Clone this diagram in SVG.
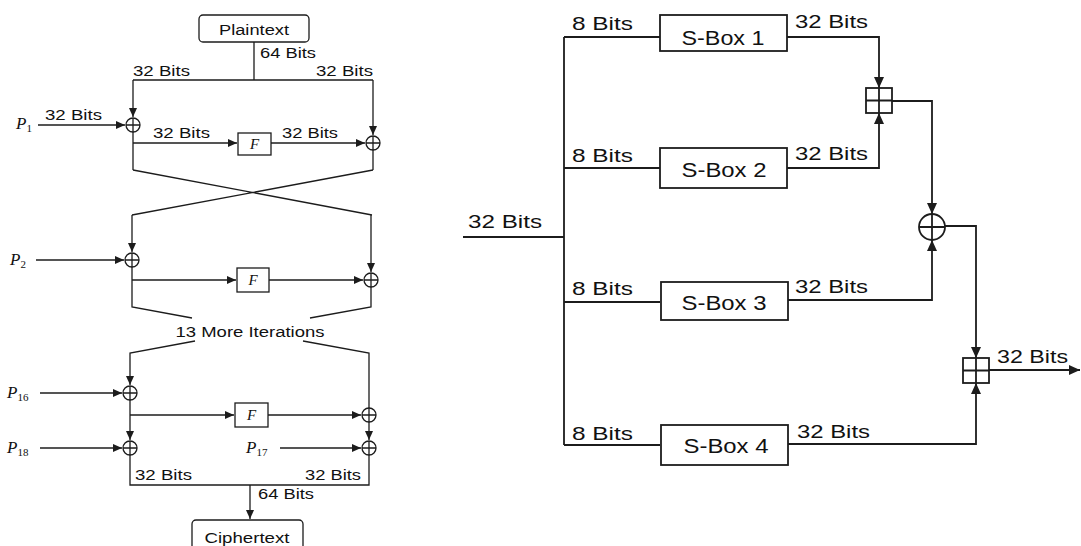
<svg xmlns="http://www.w3.org/2000/svg" width="1081" height="546" viewBox="0 0 1081 546">
<style>
.ln{fill:none;stroke:#1c1c1c;stroke-width:1.3}
.lnR{fill:none;stroke:#1c1c1c;stroke-width:1.8}
.box{fill:#fff;stroke:#1c1c1c;stroke-width:1.3}
.boxR{fill:#fff;stroke:#1c1c1c;stroke-width:1.8}
.t{font-family:"Liberation Sans",Arial,sans-serif;font-size:14px;fill:#111}
.tR{font-family:"Liberation Sans",Arial,sans-serif;font-size:19px;fill:#111}
.tS{font-family:"Liberation Sans",Arial,sans-serif;font-size:20px;fill:#111}
.p{font-family:"Liberation Serif","Times New Roman",serif;font-style:italic;font-size:17px;fill:#111}
.pf{font-family:"Liberation Serif","Times New Roman",serif;font-style:italic;font-size:15px;fill:#111}
.sub{font-size:11px;font-style:normal}
</style>
<defs>
<marker id="a" markerUnits="userSpaceOnUse" markerWidth="10" markerHeight="8" refX="9" refY="4" orient="auto"><path d="M0,0 L9,4 L0,8 z" fill="#1c1c1c"/></marker>
<marker id="aR" markerUnits="userSpaceOnUse" markerWidth="12" markerHeight="10" refX="11" refY="5" orient="auto"><path d="M0,0 L11,5 L0,10 z" fill="#1c1c1c"/></marker>
</defs>
<rect width="1081" height="546" fill="#fff"/>

<!-- connectors -->
<g id="connectors">
  <!-- left: Blowfish -->
  <path class="ln" d="M254,42 V80 M133,80 H373"/>
  <path class="ln" d="M133,80 V117" marker-end="url(#a)"/>
  <path class="ln" d="M373,80 V135" marker-end="url(#a)"/>
  <path class="ln" d="M38,125 H125" marker-end="url(#a)"/>
  <path class="ln" d="M133,132 V170"/>
  <path class="ln" d="M133,143 H237" marker-end="url(#a)"/>
  <path class="ln" d="M271,143 H365" marker-end="url(#a)"/>
  <path class="ln" d="M373,150 V170"/>
  <path class="ln" d="M133,170 L372,215 M373,170 L132,215"/>
  <path class="ln" d="M132,215 V252" marker-end="url(#a)"/>
  <path class="ln" d="M371,215 V272" marker-end="url(#a)"/>
  <path class="ln" d="M36,260 H124" marker-end="url(#a)"/>
  <path class="ln" d="M132,267 V307 L192,318"/>
  <path class="ln" d="M132,280 H236" marker-end="url(#a)"/>
  <path class="ln" d="M269,280 H363" marker-end="url(#a)"/>
  <path class="ln" d="M371,287 V307 L310,318"/>
  <path class="ln" d="M195,341 L130,353 V385" marker-end="url(#a)"/>
  <path class="ln" d="M303,341 L369,353 V440" marker-end="url(#a)"/>
  <path class="ln" d="M40,393 H122" marker-end="url(#a)"/>
  <path class="ln" d="M130,400 V440" marker-end="url(#a)"/>
  <path class="ln" d="M130,415 H234" marker-end="url(#a)"/>
  <path class="ln" d="M268,415 H361" marker-end="url(#a)"/>
  <path class="ln" d="M40,448 H122" marker-end="url(#a)"/>
  <path class="ln" d="M280,448 H361" marker-end="url(#a)"/>
  <path class="ln" d="M130,455 V485 H369 V455"/>
  <path class="ln" d="M250,485 V519" marker-end="url(#a)"/>

  <!-- right: F function -->
  <path class="lnR" d="M463,237 H564 M564,37 V445"/>
  <path class="lnR" d="M564,37 H660 M564,168 H660 M564,302 H660 M564,445 H660"/>
  <path class="lnR" d="M787,37 H879 V88" marker-end="url(#aR)"/>
  <path class="lnR" d="M787,168 H879 V113" marker-end="url(#aR)"/>
  <path class="lnR" d="M892,101 H932 V214" marker-end="url(#aR)"/>
  <path class="lnR" d="M787,300 H932 V240" marker-end="url(#aR)"/>
  <path class="lnR" d="M945,226 H976 V358" marker-end="url(#aR)"/>
  <path class="lnR" d="M787,444 H976 V383" marker-end="url(#aR)"/>
  <path class="lnR" d="M989,370 H1080" marker-end="url(#aR)"/>
</g>

<!-- left nodes -->
<g id="plaintext"><rect class="box" x="199" y="15" width="110" height="27" rx="4"/><text class="t" x="254" y="35" text-anchor="middle" textLength="70" lengthAdjust="spacingAndGlyphs">Plaintext</text></g>
<g id="ciphertext"><rect class="box" x="192" y="520" width="111" height="40" rx="4"/><text class="t" x="247" y="543" text-anchor="middle" textLength="85" lengthAdjust="spacingAndGlyphs">Ciphertext</text></g>

<g id="xor1L"><circle class="box" cx="133" cy="125" r="7"/><path class="ln" d="M126,125 H140 M133,118 V132"/></g>
<g id="xor1R"><circle class="box" cx="373" cy="143" r="7"/><path class="ln" d="M366,143 H380 M373,136 V150"/></g>
<g id="xor2L"><circle class="box" cx="132" cy="260" r="7"/><path class="ln" d="M125,260 H139 M132,253 V267"/></g>
<g id="xor2R"><circle class="box" cx="371" cy="280" r="7"/><path class="ln" d="M364,280 H378 M371,273 V287"/></g>
<g id="xor16L"><circle class="box" cx="130" cy="393" r="7"/><path class="ln" d="M123,393 H137 M130,386 V400"/></g>
<g id="xor16R"><circle class="box" cx="369" cy="415" r="7"/><path class="ln" d="M362,415 H376 M369,408 V422"/></g>
<g id="xor18L"><circle class="box" cx="130" cy="448" r="7"/><path class="ln" d="M123,448 H137 M130,441 V455"/></g>
<g id="xor17R"><circle class="box" cx="369" cy="448" r="7"/><path class="ln" d="M362,448 H376 M369,441 V455"/></g>

<g id="F1"><rect class="box" x="238" y="133" width="33" height="22"/><text class="pf" x="254.5" y="149" text-anchor="middle">F</text></g>
<g id="F2"><rect class="box" x="237" y="268" width="32" height="24"/><text class="pf" x="253" y="285" text-anchor="middle">F</text></g>
<g id="F3"><rect class="box" x="235" y="403" width="33" height="24"/><text class="pf" x="251.5" y="420" text-anchor="middle">F</text></g>

<g id="labelsL">
  <text class="t" x="260" y="58" textLength="56" lengthAdjust="spacingAndGlyphs">64 Bits</text>
  <text class="t" x="133" y="76" textLength="57" lengthAdjust="spacingAndGlyphs">32 Bits</text>
  <text class="t" x="316" y="76" textLength="57" lengthAdjust="spacingAndGlyphs">32 Bits</text>
  <text class="t" x="45" y="120" textLength="57" lengthAdjust="spacingAndGlyphs">32 Bits</text>
  <text class="t" x="153" y="138" textLength="57" lengthAdjust="spacingAndGlyphs">32 Bits</text>
  <text class="t" x="282" y="138" textLength="56" lengthAdjust="spacingAndGlyphs">32 Bits</text>
  <text class="t" x="250" y="337" text-anchor="middle" textLength="149" lengthAdjust="spacingAndGlyphs">13 More Iterations</text>
  <text class="t" x="135" y="480" textLength="57" lengthAdjust="spacingAndGlyphs">32 Bits</text>
  <text class="t" x="305" y="480" textLength="56" lengthAdjust="spacingAndGlyphs">32 Bits</text>
  <text class="t" x="258" y="499" textLength="56" lengthAdjust="spacingAndGlyphs">64 Bits</text>
  <text class="p" x="16" y="129">P<tspan class="sub" dy="3">1</tspan></text>
  <text class="p" x="10" y="265">P<tspan class="sub" dy="3">2</tspan></text>
  <text class="p" x="7" y="398">P<tspan class="sub" dy="3">16</tspan></text>
  <text class="p" x="7" y="453">P<tspan class="sub" dy="3">18</tspan></text>
  <text class="p" x="246" y="453">P<tspan class="sub" dy="3">17</tspan></text>
</g>

<!-- right nodes -->
<g id="sbox1"><rect class="boxR" x="660" y="15" width="127" height="36"/><text class="tS" x="723" y="45" text-anchor="middle" textLength="83" lengthAdjust="spacingAndGlyphs">S-Box 1</text></g>
<g id="sbox2"><rect class="boxR" x="660" y="148" width="127" height="40"/><text class="tS" x="724" y="177" text-anchor="middle" textLength="85" lengthAdjust="spacingAndGlyphs">S-Box 2</text></g>
<g id="sbox3"><rect class="boxR" x="661" y="282" width="127" height="38"/><text class="tS" x="724" y="310" text-anchor="middle" textLength="85" lengthAdjust="spacingAndGlyphs">S-Box 3</text></g>
<g id="sbox4"><rect class="boxR" x="661" y="425" width="127" height="40"/><text class="tS" x="726" y="453" text-anchor="middle" textLength="85" lengthAdjust="spacingAndGlyphs">S-Box 4</text></g>

<g id="add1"><rect class="boxR" x="866" y="88" width="26" height="25"/><path class="lnR" d="M879,88 V113 M866,100.5 H892"/></g>
<g id="xorR"><circle class="boxR" cx="932" cy="227" r="13"/><path class="lnR" d="M932,214 V240 M919,227 H945"/></g>
<g id="add2"><rect class="boxR" x="963" y="358" width="26" height="25"/><path class="lnR" d="M976,358 V383 M963,370.5 H989"/></g>

<g id="labelsR">
  <text class="tR" x="468" y="228" textLength="74" lengthAdjust="spacingAndGlyphs">32 Bits</text>
  <text class="tR" x="572" y="30" textLength="61" lengthAdjust="spacingAndGlyphs">8 Bits</text>
  <text class="tR" x="572" y="162" textLength="61" lengthAdjust="spacingAndGlyphs">8 Bits</text>
  <text class="tR" x="572" y="295" textLength="61" lengthAdjust="spacingAndGlyphs">8 Bits</text>
  <text class="tR" x="572" y="440" textLength="61" lengthAdjust="spacingAndGlyphs">8 Bits</text>
  <text class="tR" x="795" y="28" textLength="73" lengthAdjust="spacingAndGlyphs">32 Bits</text>
  <text class="tR" x="795" y="160" textLength="73" lengthAdjust="spacingAndGlyphs">32 Bits</text>
  <text class="tR" x="795" y="293" textLength="73" lengthAdjust="spacingAndGlyphs">32 Bits</text>
  <text class="tR" x="797" y="438" textLength="73" lengthAdjust="spacingAndGlyphs">32 Bits</text>
  <text class="tR" x="997" y="363" textLength="71" lengthAdjust="spacingAndGlyphs">32 Bits</text>
</g>
</svg>
